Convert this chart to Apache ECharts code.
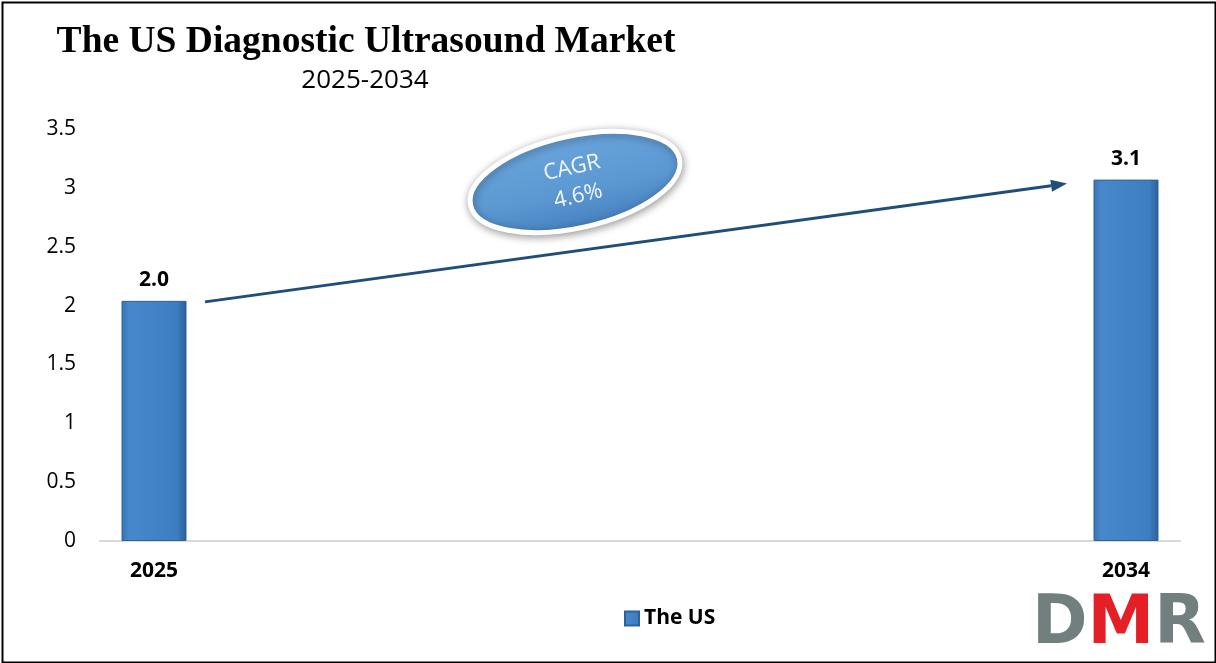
<!DOCTYPE html>
<html>
<head>
<meta charset="utf-8">
<script src="https://cdn.jsdelivr.net/npm/echarts@6/dist/echarts.min.js"></script>
<style>
html,body{margin:0;padding:0;background:#fff;}
#c{width:1216px;height:663px;}
</style>
</head>
<body>
<div id="c"></div>
<script>
const years = ['2025','2026','2027','2028','2029','2030','2031','2032','2033','2034'];
const marketValues = [2.04, null, null, null, null, null, null, null, null, 3.07];
const yTicks = [0, 0.5, 1, 1.5, 2, 2.5, 3, 3.5];
const seriesName = 'The US';
const titleText = 'The US Diagnostic Ultrasound Market';
const subtitleText = '2025-2034';
const cagrText = 'CAGR\n4.6%';

const chart = echarts.init(document.getElementById('c'), null, {renderer:'canvas'});
const barGradient = new echarts.graphic.LinearGradient(0,0,1,0,[
  {offset:0,color:'#3774b4'},{offset:0.12,color:'#4787cb'},
  {offset:0.85,color:'#3d7ec2'},{offset:1,color:'#2b6099'}]);

const option = {
  animation:false,
  backgroundColor:'#fff',
  title:[
    {text:titleText, left:361, top:18, textAlign:'center',
     textStyle:{fontFamily:'Liberation Serif', fontWeight:'bold', fontSize:37.5, color:'#000'}},
    {text:subtitleText, left:360, top:63, textAlign:'center',
     textStyle:{fontFamily:'Open Sans', fontWeight:'normal', fontSize:26, color:'#000'}}
  ],
  legend:{
    data:[seriesName], left:619, top:603, itemWidth:14, itemHeight:14, itemGap:6,
    icon:'rect',
    textStyle:{fontFamily:'Open Sans', fontWeight:'bold', fontSize:21, color:'#000'}
  },
  grid:{left:100, right:36, top:129, bottom:122},
  xAxis:{
    type:'category', data:years,
    axisLine:{lineStyle:{color:'#d9d9d9', width:2}},
    axisTick:{show:false},
    axisLabel:{
      interval:0, margin:20,
      formatter:function(v,i){return (i===0||i===years.length-1)?v:'';},
      fontFamily:'Open Sans', fontWeight:'bold', fontSize:21, color:'#000'
    }
  },
  yAxis:{
    type:'value', min:0, max:3.5, interval:0.5,
    axisLine:{show:false}, axisTick:{show:false}, splitLine:{show:false},
    axisLabel:{margin:24, fontFamily:'Open Sans', fontSize:21, color:'#000',
      formatter:function(v){return yTicks.indexOf(v)>=0?String(v):'';}}
  },
  series:[{
    name:seriesName, type:'bar', data:marketValues, barWidth:65,
    itemStyle:{color:barGradient, borderColor:'#2d6399', borderWidth:1},
    label:{show:true, position:'top', distance:10,
      formatter:function(p){return p.value==null?'':p.value.toFixed(1);},
      fontFamily:'Open Sans', fontWeight:'bold', fontSize:21, color:'#000'}
  }]
};
chart.setOption(option);

const p1 = chart.convertToPixel({seriesIndex:0},[0, marketValues[0]]);
const p2 = chart.convertToPixel({seriesIndex:0},[9, marketValues[9]]);
const sx = p1[0]+51, sy = p1[1]+1;
const ex = p2[0]-59, ey = p2[1]+4;
const ang = Math.atan2(ey-sy, ex-sx);
const hl = 16, hw = 6;
const bx = ex - hl*Math.cos(ang), by = ey - hl*Math.sin(ang);
const nx = -Math.sin(ang), ny = Math.cos(ang);

chart.setOption({
  graphic:[
    {type:'rect', left:0, top:0, shape:{x:1,y:1,width:1213,height:660},
     style:{fill:'none', stroke:'#000', lineWidth:2}, silent:true, z:100},
    {type:'line', shape:{x1:sx,y1:sy,x2:bx,y2:by},
     style:{stroke:'#1f4e79', lineWidth:3}, z:10},
    {type:'polygon', shape:{points:[[ex,ey],[bx+nx*hw,by+ny*hw],[bx-nx*hw,by-ny*hw]]},
     style:{fill:'#1f4e79'}, z:10},
    {type:'group', x:575, y:182, rotation:0.22, z:20, children:[
      {type:'ellipse', shape:{cx:0,cy:0,rx:107,ry:46},
       style:{fill:new echarts.graphic.LinearGradient(0,0,0,1,[
          {offset:0,color:'#6aa5dc'},{offset:0.6,color:'#5b97d1'},{offset:1,color:'#4681bf'}]),
         stroke:'#ffffff', lineWidth:5,
         shadowBlur:8, shadowColor:'rgba(0,0,0,0.35)', shadowOffsetX:1, shadowOffsetY:2}},
      {type:'text', x:0, y:0,
       style:{text:cagrText, fill:'#f2f7fc', font:'22px "Open Sans"', textAlign:'center',
              textVerticalAlign:'middle', lineHeight:29, align:'center', verticalAlign:'middle'}}
    ]},
    {type:'text', left:1032, top:592,
     style:{rich:{d:{fill:'#717f7e', fontSize:67, fontWeight:'bold', fontFamily:'DejaVu Sans'},
                 m:{fill:'#e41f26', fontSize:67, fontWeight:'bold', fontFamily:'DejaVu Sans'}},
            text:'{d|D}{m|M}{d|R}'}}
  ]
});
</script>
</body>
</html>
